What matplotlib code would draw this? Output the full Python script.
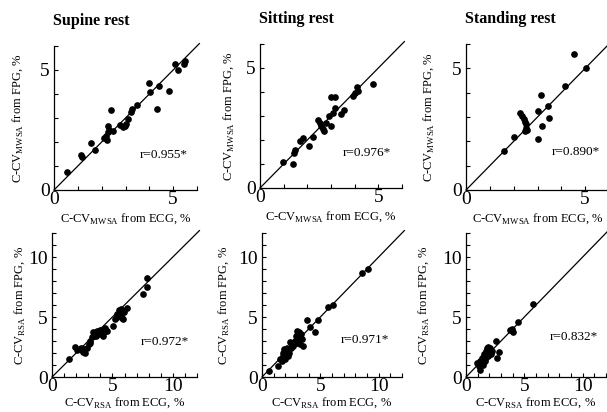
import matplotlib
matplotlib.use("Agg")
import matplotlib.pyplot as plt
from matplotlib.ticker import FixedLocator, FuncFormatter

plt.rcParams["font.family"] = ["Liberation Serif", "DejaVu Serif"]
plt.rcParams["mathtext.fontset"] = "custom"
plt.rcParams["mathtext.rm"] = "Liberation Serif"

titles = ["Supine rest", "Sitting rest", "Standing rest"]
r_top = ["r=0.955*", "r=0.976*", "r=0.890*"]
r_bottom = ["r=0.972*", "r=0.971*", "r=0.832*"]

supine_mwsa_ecg = [0.56, 1.13, 1.17, 1.55, 1.72, 2.11, 2.18, 2.23, 2.25, 2.25, 2.30, 2.39, 2.49,
                   2.75, 2.90, 2.96, 3.03, 3.10, 3.24, 3.27, 3.48, 3.99, 4.01, 4.34, 4.41, 4.83,
                   5.07, 5.21, 5.46, 5.49]
supine_mwsa_fpg = [0.76, 1.46, 1.37, 1.96, 1.65, 2.17, 2.24, 2.10, 2.66, 2.41, 2.52, 3.32, 2.45,
                   2.70, 2.62, 2.66, 2.76, 2.97, 3.25, 3.37, 3.54, 4.46, 4.10, 3.37, 4.32, 4.14,
                   5.23, 4.99, 5.27, 5.37]

sitting_mwsa_ecg = [0.97, 1.39, 1.43, 1.46, 1.71, 1.81, 2.09, 2.23, 2.44, 2.52, 2.58, 2.65, 2.72,
                    2.79, 2.99, 2.93, 3.07, 3.17, 3.42, 3.53, 3.00, 3.15, 3.91, 4.01, 4.09, 4.12,
                    4.79]
sitting_mwsa_fpg = [1.07, 1.01, 1.46, 1.60, 1.97, 2.08, 1.74, 2.11, 2.82, 2.70, 2.57, 2.46, 2.36,
                    2.71, 2.60, 2.99, 3.13, 3.33, 3.10, 3.26, 3.78, 3.78, 3.82, 3.96, 4.21, 4.03,
                    4.35]

standing_mwsa_ecg = [1.58, 2.03, 2.28, 2.36, 2.43, 2.47, 2.50, 2.51, 2.56, 2.49, 3.00, 3.04, 3.14,
                     3.17, 3.42, 3.47, 4.15, 4.54, 5.03]
standing_mwsa_fpg = [1.59, 2.16, 3.16, 3.06, 2.92, 2.80, 2.70, 2.55, 2.45, 2.41, 2.11, 3.23, 3.92,
                     2.62, 3.47, 2.96, 4.29, 5.59, 5.01]

supine_rsa_ecg = [1.44, 1.92, 2.06, 2.28, 2.47, 2.61, 2.75, 2.89, 3.03, 3.17, 3.31, 3.39, 3.58,
                  3.72, 3.86, 4.00, 4.14, 4.28, 4.42, 4.56, 5.06, 5.25, 5.39, 5.53, 5.67, 5.81,
                  5.94, 6.17, 7.53, 7.83, 7.89, 2.39, 2.55, 2.67, 3.11, 3.44, 3.67, 3.94, 4.22,
                  5.39, 5.72, 5.89]
supine_rsa_fpg = [1.52, 2.51, 2.25, 2.31, 2.25, 2.17, 2.03, 2.45, 2.73, 3.01, 3.30, 3.77, 3.58,
                  3.86, 3.58, 3.77, 3.94, 3.72, 4.06, 3.86, 4.23, 4.85, 5.27, 5.55, 5.13, 4.90,
                  5.41, 5.75, 6.90, 7.52, 8.28, 2.45, 2.08, 2.31, 2.87, 3.44, 3.38, 3.94, 3.44,
                  4.99, 5.66, 4.82]

sitting_rsa_ecg = [0.63, 1.40, 1.69, 1.77, 1.83, 1.89, 1.97, 2.06, 2.11, 2.26, 2.40, 2.46, 2.54,
                   2.69, 2.83, 2.91, 3.03, 3.11, 3.20, 3.26, 3.40, 3.49, 3.83, 4.11, 4.54, 4.83,
                   5.69, 6.06, 8.54, 9.11, 1.54, 2.17, 2.34, 2.97, 3.31]
sitting_rsa_fpg = [0.48, 0.90, 1.32, 1.75, 2.03, 2.31, 1.52, 1.89, 2.17, 1.75, 2.93, 2.45, 2.73,
                   2.59, 3.01, 3.44, 3.86, 3.21, 3.72, 2.73, 3.15, 2.59, 4.79, 4.14, 3.72, 4.79,
                   5.83, 5.97, 8.65, 9.01, 1.46, 2.38, 2.03, 2.87, 3.58]

standing_rsa_ecg = [0.96, 1.10, 1.19, 1.24, 1.38, 1.47, 1.53, 1.67, 1.75, 1.81, 1.86, 1.95, 2.03,
                    2.09, 2.15, 2.60, 2.66, 2.80, 3.73, 3.93, 4.07, 4.49, 5.71, 1.30, 1.60, 1.90,
                    2.20]
standing_rsa_fpg = [1.13, 0.90, 1.32, 0.62, 1.61, 1.04, 1.89, 1.46, 2.17, 2.45, 1.75, 2.31, 2.03,
                    2.45, 1.89, 3.01, 1.61, 2.08, 3.94, 4.00, 3.72, 4.62, 6.11, 1.20, 1.30, 2.50,
                    2.20]

top_data = [(supine_mwsa_ecg, supine_mwsa_fpg), (sitting_mwsa_ecg, sitting_mwsa_fpg),
            (standing_mwsa_ecg, standing_mwsa_fpg)]
bottom_data = [(supine_rsa_ecg, supine_rsa_fpg), (sitting_rsa_ecg, sitting_rsa_fpg),
               (standing_rsa_ecg, standing_rsa_fpg)]

W, H = 607, 412
fig = plt.figure(figsize=(W / 100, H / 100), dpi=100)

# pixel boxes: left, top, right, bottom
top_boxes = [(54, 46, 197, 190), (260, 44, 402, 188), (466, 44, 609, 190)]
bottom_boxes = [(52, 233, 197, 377), (262, 233, 402, 377), (466, 233, 606, 377)]
top_r_pos = [(0.60, 0.245), (0.58, 0.24), (0.60, 0.26)]
bottom_r_pos = [(0.61, 0.24), (0.56, 0.26), (0.60, 0.28)]
top_ylab_x = [-0.20, -0.17, -0.21]
bottom_ylab_x = [-0.17, -0.22, -0.25]


def make_ax(box):
    l, t, r, b = box
    return fig.add_axes([l / W, 1 - b / H, (r - l) / W, (b - t) / H])


def style(ax, lim, ticks):
    ax.set_xlim(0, lim)
    ax.set_ylim(0, lim)
    ax.spines["top"].set_visible(False)
    ax.spines["right"].set_visible(False)
    for s in ("left", "bottom"):
        ax.spines[s].set_linewidth(0.9)
    ax.xaxis.set_major_locator(FixedLocator(ticks))
    ax.yaxis.set_major_locator(FixedLocator(ticks))
    fmt = FuncFormatter(lambda v, p: "%d" % v if v % 5 == 0 else "")
    ax.xaxis.set_major_formatter(fmt)
    ax.yaxis.set_major_formatter(fmt)
    ax.tick_params(direction="in", length=3, width=0.8, labelsize=14)
    ax.tick_params(axis="x", pad=1)
    ax.tick_params(axis="y", pad=3)


for i in range(3):
    ax = make_ax(top_boxes[i])
    x, y = top_data[i]
    ax.plot([0, 6.1], [0, 6.1], color="black", lw=0.9, clip_on=False)
    ax.plot(x, y, "o", color="black", ms=3.8, clip_on=False)
    style(ax, 6, list(range(0, 7)))
    ax.set_title(titles[i], loc="left", fontsize=11.5, fontweight="bold", pad=15, x=-0.01)
    ax.set_xlabel(r"C-CV$_{\mathrm{MWSA}}$ from ECG, %", fontsize=9)
    ax.set_ylabel(r"C-CV$_{\mathrm{MWSA}}$ from FPG, %", fontsize=9)
    ax.xaxis.set_label_coords(0.5, -0.15)
    ax.xaxis.label.set_va("top")
    ax.yaxis.set_label_coords(top_ylab_x[i], 0.5)
    ax.text(top_r_pos[i][0], top_r_pos[i][1], r_top[i], transform=ax.transAxes,
            fontsize=9.5, va="center")

for i in range(3):
    ax = make_ax(bottom_boxes[i])
    x, y = bottom_data[i]
    ax.plot([0, 12.2], [0, 12.2], color="black", lw=0.9, clip_on=False)
    ax.plot(x, y, "o", color="black", ms=3.8, clip_on=False)
    style(ax, 12, list(range(0, 13)))
    ax.set_xlabel(r"C-CV$_{\mathrm{RSA}}$ from ECG, %", fontsize=9)
    ax.set_ylabel(r"C-CV$_{\mathrm{RSA}}$ from FPG, %", fontsize=9)
    ax.xaxis.set_label_coords(0.5, -0.13)
    ax.xaxis.label.set_va("top")
    ax.yaxis.set_label_coords(bottom_ylab_x[i], 0.5)
    ax.text(bottom_r_pos[i][0], bottom_r_pos[i][1], r_bottom[i], transform=ax.transAxes,
            fontsize=9.5, va="center")

fig.savefig("out.png", dpi=100)
